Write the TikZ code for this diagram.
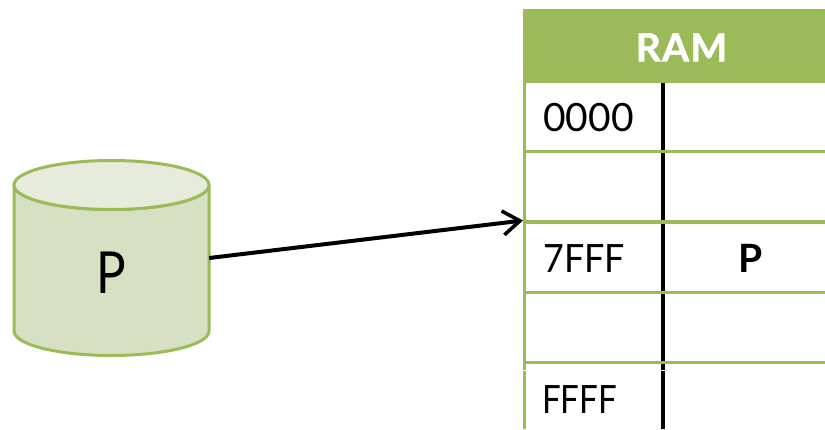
\documentclass[tikz,border=0pt]{standalone}
\usepackage{fontspec}
\setmainfont{Lato}
\newfontfamily\heavyfont[FakeBold=1.2,LetterSpace=3]{Lato Bold}
\definecolor{ramgreen}{HTML}{9BBB59}
\definecolor{cylbody}{HTML}{D7E0C3}
\definecolor{cyltop}{HTML}{E6EBDB}
\usetikzlibrary{arrows.meta}
\tikzset{
  greenline/.style={draw=ramgreen,line width=3.2pt},
  blackline/.style={draw=black,line width=3.2pt},
  celltext/.style={anchor=base west,inner sep=0pt,font=\fontsize{39}{39}\selectfont,text=black},
  connector/.style={draw=black,line width=4pt,-{Straight Barb[length=17pt,width=24pt,line width=3.6pt]}}
}
\begin{document}
\begin{tikzpicture}[x=1pt,y=-1pt]
\useasboundingbox (0,0) rectangle (825,429);
% cylinder
\path[fill=cylbody,draw=ramgreen,line width=3pt]
  (14,185) -- (14,331) arc[start angle=180,end angle=0,x radius=97.5,y radius=24.5] -- (209,185)
  arc[start angle=0,end angle=180,x radius=97.5,y radius=24.5] -- cycle;
\path[fill=cyltop,draw=ramgreen,line width=3pt] (111.5,185) ellipse[x radius=97.5,y radius=24.5];
\node[inner sep=0pt,minimum width=195pt,minimum height=196pt] (cyl) at (111.5,258) {};
\node[inner sep=0pt,anchor=base,xscale=.85,font=\fontsize{58}{58}\selectfont] (plabel) at (111.5,293) {P};
% table
\fill[ramgreen] (523,9) rectangle (825,83);
\node[inner sep=0pt,anchor=base,text=white,font=\fontsize{39}{39}\heavyfont] (ram) at (681.5,61.5) {RAM};
\draw[blackline] (663,83) -- (663,370);
\draw[blackline] (663,371) -- (663,429);
\draw[greenline] (524.5,83) -- (524.5,370);
\draw[greenline] (524.5,371) -- (524.5,429);
\foreach \y in {151.5,222,292.5,362.5} \draw[greenline] (526,\y) -- (825,\y);
\coordinate (slot) at (523,220.5);
\node[celltext] (a0) at (543,131.5) {0000};
\node[celltext,xscale=.92] (a1) at (543,272) {7FFF};
\node[celltext,xscale=.85] (a2) at (542,413.5) {FFFF};
\node[inner sep=0pt,anchor=base,font=\fontsize{39}{39}\selectfont\bfseries] (pcell) at (751,272) {P};
\draw[connector] (cyl.east) -- (slot);
\end{tikzpicture}
\end{document}
